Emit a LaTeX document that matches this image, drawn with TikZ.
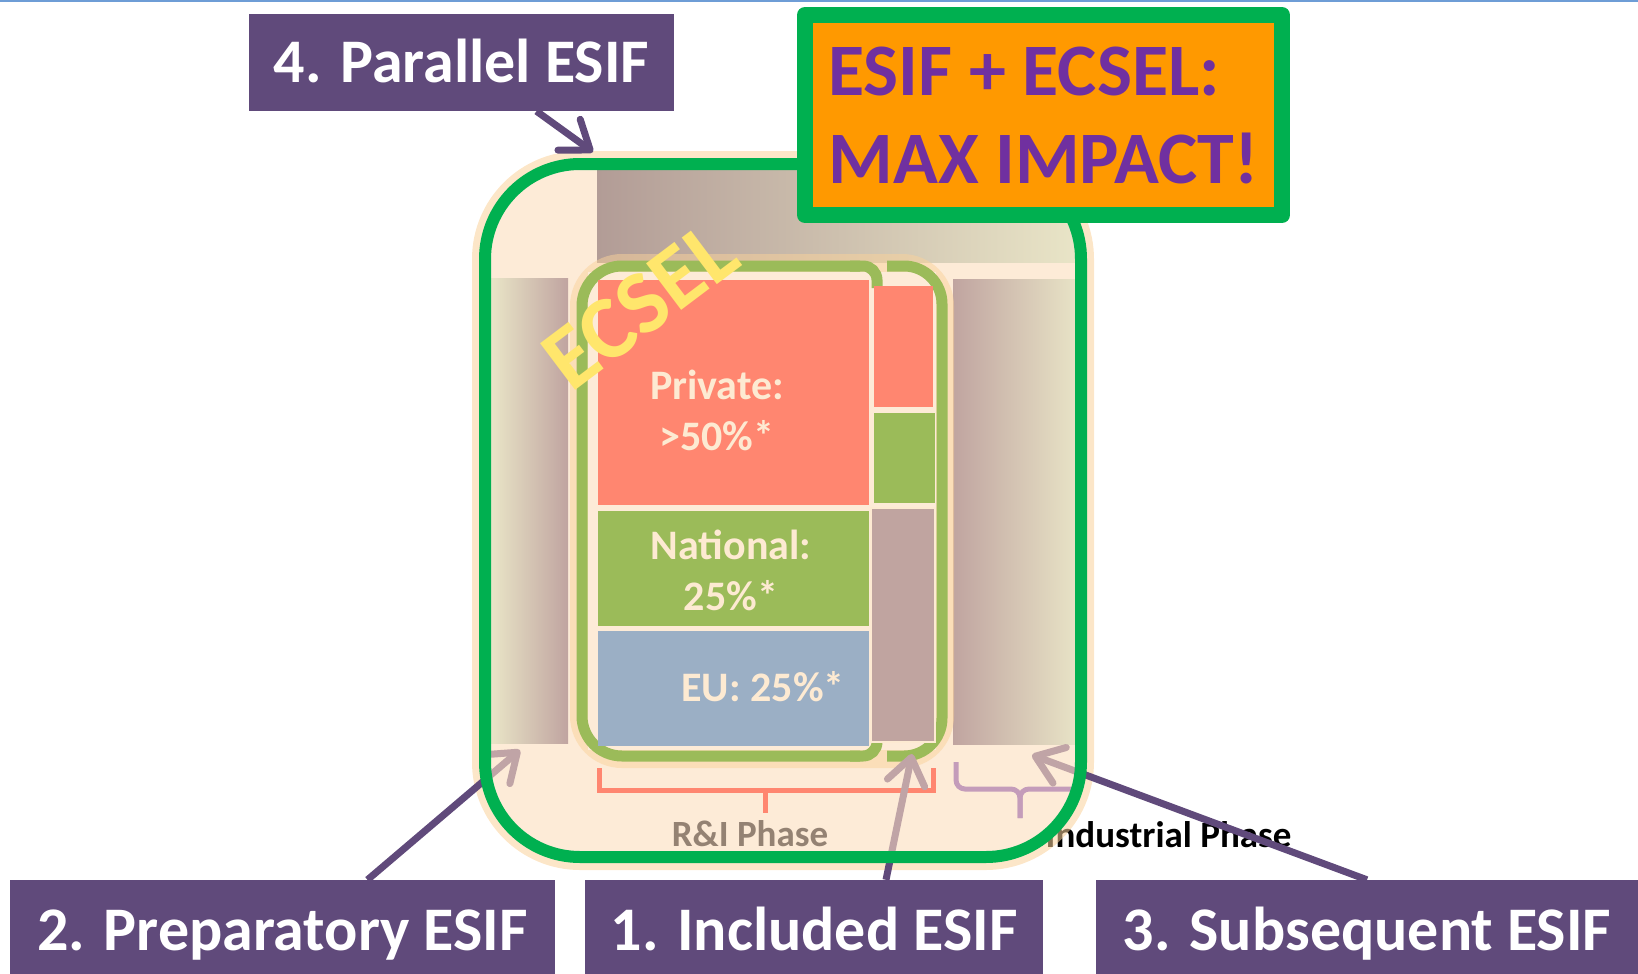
\documentclass[tikz,border=0pt]{standalone}
\usepackage{fontspec}
\setmainfont{Carlito}
\usepackage{tikz}
\usetikzlibrary{arrows.meta}
\definecolor{esifpurple}{RGB}{96,74,123}
\definecolor{maxpurple}{RGB}{112,48,160}
\definecolor{ecselgreen}{RGB}{0,176,80}
\definecolor{impactorange}{RGB}{255,153,0}
\definecolor{cream}{RGB}{253,235,215}
\definecolor{halo}{RGB}{250,210,155}
\definecolor{olive}{RGB}{155,187,89}
\definecolor{salmon}{RGB}{255,134,112}
\definecolor{eublue}{RGB}{155,175,197}
\definecolor{mauve}{RGB}{192,164,160}
\definecolor{pale}{RGB}{233,229,199}
\definecolor{dusk}{RGB}{178,156,150}
\definecolor{paletext}{RGB}{253,234,210}
\definecolor{phasegrey}{RGB}{148,130,115}
\definecolor{bracepink}{RGB}{196,156,186}
\definecolor{fadedpurple}{RGB}{192,164,166}
\definecolor{ecselyellow}{RGB}{255,230,108}
\definecolor{topline}{RGB}{110,157,214}
\tikzstyle{esif}=[rectangle,fill=esifpurple,text=white,inner sep=0pt,font=\fontsize{62}{70}\selectfont\bfseries,text height=40pt,text depth=0pt]
\tikzstyle{impact}=[rectangle,draw=ecselgreen,line width=16pt,line join=round,fill=impactorange,text=maxpurple,inner sep=0pt,align=left,font=\fontsize{74}{88}\selectfont\bfseries]
\tikzstyle{pointer}=[-{Straight Barb[length=26pt,width=38pt,round]},line width=7pt,esifpurple]
\tikzstyle{pointerin}=[pointer,fadedpurple]
\tikzstyle{fund}=[rounded corners=95pt]
\tikzstyle{share}=[text=paletext,align=center,font=\fontsize{42}{51}\selectfont\bfseries]
\tikzstyle{phase}=[font=\fontsize{37}{40}\selectfont\bfseries]
\tikzstyle{ecselframe}=[olive,line width=11pt]
\tikzstyle{ecseltext}=[rotate=37,font=\fontsize{90}{92}\selectfont\bfseries]

\begin{document}
\begin{tikzpicture}[x=1pt,y=-1pt]
      \useasboundingbox (0,0) rectangle (1638,974);
      \fill[topline] (0,0) rectangle (1638,2.5);
      % funding labels
      \node[esif,minimum width=425pt,minimum height=97pt] at (461.5,62.5) (para) {4. Parallel ESIF};
      \node[esif,minimum width=545pt,minimum height=100pt] at (282.5,930) (prep) {2. Preparatory ESIF};
      \node[esif,minimum width=458pt,minimum height=100pt] at (814,930) (incl) {1. Included ESIF};
      \node[esif,minimum width=542pt,minimum height=100pt] at (1367,930) (subs) {3. Subsequent ESIF};
      \coordinate (paraTip) at (593,152);
      \coordinate (prepTip) at (520,750);
      \coordinate (inclTip) at (912,754);
      \coordinate (subsTip) at (1032,755);
      \node[phase,anchor=base east] at (1295,847) (indus) {Industrial Phase};
      \draw[fund,halo,line width=26pt,opacity=0.55] (485,164) rectangle (1081,857);
      \draw[pointer] ([xshift=75pt]para.south) -- (paraTip);
      \draw[pointer] ([xshift=85pt]prep.north) -- (prepTip);
      \draw[pointer] ([xshift=72pt]incl.north) -- (inclTip);
      \draw[pointer] (subs.north) -- (subsTip);
      \fill[fund,cream] (485,164) rectangle (1081,857);
      \begin{scope}
        \clip[fund] (485,164) rectangle (1081,857);
        \shade[left color=dusk,right color=pale] (597,170) rectangle (1080,262);
        \shade[left color=pale,right color=mauve] (491,278) rectangle (568,743);
        \shade[left color=mauve,right color=pale] (953,279) rectangle (1080,744);
        % ECSEL frame
        \draw[halo,line width=24pt,opacity=0.5,rounded corners=40pt] (582,266) rectangle (942,756);
        \fill[cream] (588,272) rectangle (936,750);
        \draw[ecselframe,rounded corners=40pt] (860,266) -- (582,266) -- (582,756) -- (860,756);
        \draw[ecselframe,rounded corners=14pt] (850,266) -- (877,266) -- (877,288);
        \draw[ecselframe,rounded corners=14pt] (850,756) -- (877,756) -- (877,740);
        \draw[ecselframe,rounded corners=38pt] (887,266) -- (942,266) -- (942,756) -- (887,756);
        \fill[salmon] (598,280) rectangle (869,505);
        \fill[olive] (598,511) rectangle (869,626);
        \fill[eublue] (598,631) rectangle (869,746);
        \fill[salmon] (874,286) rectangle (933,407);
        \fill[olive] (874,413) rectangle (935,503);
        \filldraw[fill=mauve,draw=paletext,line width=1.5pt] (871,508) rectangle (935,742);
        \node[share] at (717,410) (priv) {Private:\\>50\%*};
        \node[share] at (731,570) (natl) {National:\\25\%*};
        \node[share] at (763,687) (eu) {EU: 25\%*};
        % phases
        \draw[salmon,line width=5pt] (599,768) -- (599,790) -- (933,790) -- (933,768);
        \draw[salmon,line width=5pt] (765,790) -- (765,813);
        \draw[bracepink,line width=5pt,rounded corners=9pt] (956,762) |- (1020,789) -- (1020,818);
        \draw[bracepink,line width=5pt,rounded corners=9pt] (1092,789) -- (1020,789) -- (1020,818);
        \node[phase,text=phasegrey] at (750,834) (rni) {R\&I Phase};
        \node[ecseltext,text=ecselyellow] at (640,306) (ecsel) {ECSEL};
        \draw[pointerin] ([xshift=85pt]prep.north) -- (prepTip);
        \draw[pointerin] ([xshift=72pt]incl.north) -- (inclTip);
        \draw[pointerin] (subs.north) -- (subsTip);
      \end{scope}
      \draw[fund,ecselgreen,line width=12pt] (485,164) rectangle (1081,857);
      \node[impact,minimum width=477pt,minimum height=200pt] at (1043.5,115) (max) {ESIF + ECSEL:\\MAX IMPACT!};
    \end{tikzpicture}
\end{document}
